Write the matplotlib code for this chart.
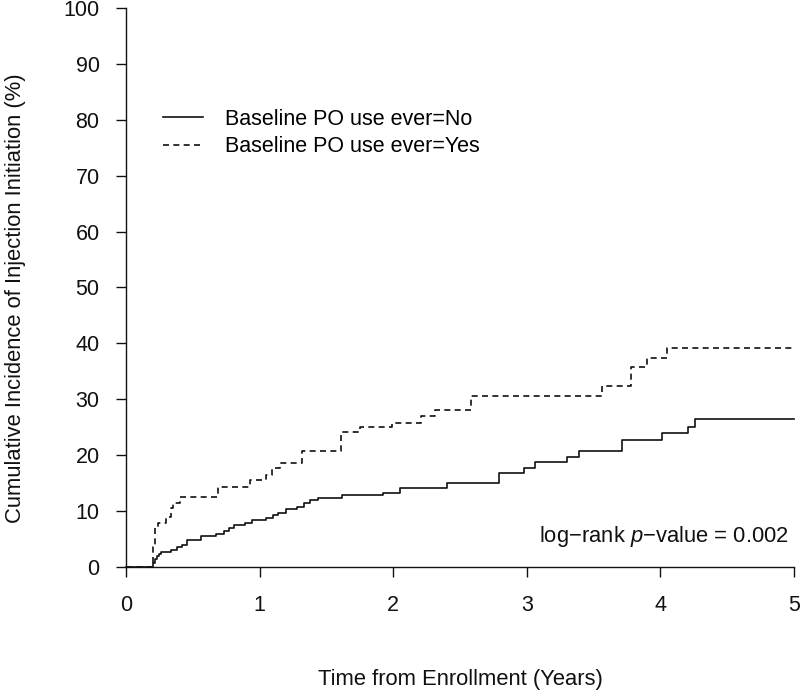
import matplotlib
matplotlib.use('Agg')
import matplotlib.pyplot as plt
from matplotlib.lines import Line2D

plt.rcParams['font.family'] = ['Liberation Sans', 'DejaVu Sans']
plt.rcParams['mathtext.fontset'] = 'custom'
plt.rcParams['mathtext.rm'] = 'Liberation Sans'
plt.rcParams['mathtext.it'] = 'Liberation Sans:italic'

# cumulative incidence, step data (years, %)
t_no = [0, 0.205, 0.215, 0.23, 0.245, 0.26, 0.335, 0.385, 0.42, 0.46, 0.56, 0.67, 0.73,
        0.77, 0.81, 0.89, 0.94, 1.05, 1.10, 1.14, 1.20, 1.28, 1.33, 1.38, 1.44, 1.62,
        1.92, 2.05, 2.40, 2.79, 2.98, 3.06, 3.30, 3.39, 3.71, 4.01, 4.21, 4.26, 5.0]
y_no = [0, 0.8, 1.5, 2.0, 2.3, 2.6, 3.0, 3.5, 4.0, 4.8, 5.5, 5.9, 6.5,
        6.9, 7.5, 7.9, 8.4, 8.8, 9.3, 9.7, 10.3, 10.7, 11.4, 12.0, 12.3, 12.8,
        13.3, 14.1, 15.0, 16.9, 17.8, 18.7, 19.7, 20.8, 22.8, 24.0, 25.1, 26.4, 26.4]

t_yes = [0, 0.205, 0.215, 0.24, 0.30, 0.335, 0.35, 0.405, 0.685, 0.93, 1.05, 1.09, 1.15,
         1.32, 1.61, 1.75, 1.99, 2.21, 2.31, 2.58, 3.56, 3.78, 3.90, 4.05, 5.0]
y_yes = [0, 3.6, 7.0, 7.8, 9.0, 10.5, 11.5, 12.5, 14.4, 15.6, 16.5, 17.8, 18.6,
         20.8, 24.1, 25.0, 25.8, 27.1, 28.0, 30.6, 32.3, 35.7, 37.4, 39.2, 39.2]

labels = ['Baseline PO use ever=No', 'Baseline PO use ever=Yes']
xticks = [0, 1, 2, 3, 4, 5]
yticks = list(range(0, 101, 10))

col = '#111111'
dash = (0, (3.6, 2.6))

fig = plt.figure(figsize=(8, 6.93), dpi=100)
ax = fig.add_axes([0.1575, 0.1818, 0.835, 0.8067])

ax.step(t_no, y_no, where='post', color=col, lw=1.2, clip_on=False)
ax.step(t_yes, y_yes, where='post', color=col, lw=1.2, ls=dash, clip_on=False)

ax.set_xlim(0, 5)
ax.set_ylim(0, 100)
ax.set_xticks(xticks)
ax.set_yticks(yticks)
for s in ['top', 'right']:
    ax.spines[s].set_visible(False)
for s in ['left', 'bottom']:
    ax.spines[s].set_linewidth(1.0)
    ax.spines[s].set_color(col)
ax.tick_params(axis='both', direction='out', length=7.5, width=1.0, color=col,
               labelsize=15.5, labelcolor=col)
ax.tick_params(axis='x', pad=13)
ax.tick_params(axis='y', pad=11.5)

handles = [Line2D([], [], color=col, lw=1.2),
           Line2D([], [], color=col, lw=1.2, ls=dash)]
ax.legend(handles, labels, loc='center left', bbox_to_anchor=(0.0554, 0.776),
          frameon=False, fontsize=15.5, borderpad=0, borderaxespad=0,
          handlelength=1.86, handletextpad=1.0, labelspacing=0.3)

ax.text(4.96, 5.4, 'log\u2212rank $p$\u2212value = 0.002', ha='right', va='center',
        fontsize=15.8, color=col)

fig.text(0.575, 0.0188, 'Time from Enrollment (Years)', ha='center', va='center',
         fontsize=15.8, color=col)
fig.text(0.019, 0.57, 'Cumulative Incidence of Injection Initiation (%)', ha='center',
         va='center', rotation=90, fontsize=15.8, color=col)

fig.savefig('out.png', dpi=100)
